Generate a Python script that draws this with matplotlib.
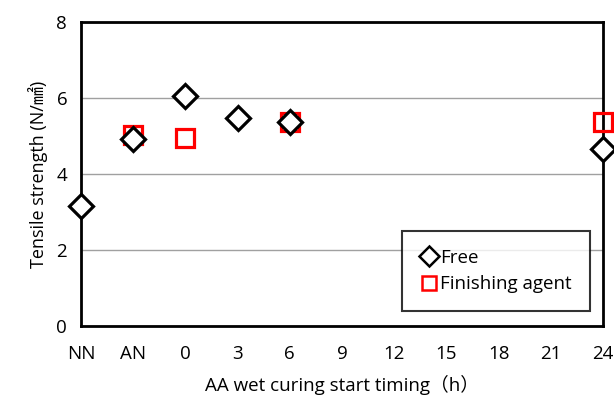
import matplotlib
matplotlib.use("Agg")
import matplotlib.pyplot as plt

plt.rcParams['font.family'] = ['Open Sans', 'Noto Sans CJK JP', 'DejaVu Sans']

categories = ["NN", "AN", "0", "3", "6", "9", "12", "15", "18", "21", "24"]
free_cats = ["NN", "AN", "0", "3", "6", "24"]
free_vals = [3.16, 4.92, 6.04, 5.47, 5.38, 4.67]
agent_cats = ["AN", "0", "6", "24"]
agent_vals = [5.03, 4.95, 5.38, 5.37]
yticks = [0, 2, 4, 6, 8]

fig = plt.figure(figsize=(6.14, 3.99), dpi=100)
ax = fig.add_axes([0.132, 0.183, 0.850, 0.762])

pos = {c: i for i, c in enumerate(categories)}
ax.plot([pos[c] for c in free_cats], free_vals, linestyle='none', marker='D',
        markersize=12, markerfacecolor='white', markeredgecolor='black',
        markeredgewidth=2.3, label='Free', zorder=4, clip_on=False)
ax.plot([pos[c] for c in agent_cats], agent_vals, linestyle='none', marker='s',
        markersize=13.5, markerfacecolor='none', markeredgecolor='#ff0000',
        markeredgewidth=2.3, label='Finishing agent', zorder=3, clip_on=False)

ax.set_xlim(0, 10)
ax.set_ylim(0, 8)
ax.set_xticks(range(len(categories)))
ax.set_xticklabels(categories)
ax.set_yticks(yticks)
ax.tick_params(axis='both', length=0, labelsize=13.5)
ax.tick_params(axis='x', pad=14)
ax.tick_params(axis='y', pad=10)
ax.yaxis.grid(True, color='#a0a0a0', linewidth=1)
ax.set_axisbelow(True)
for s in ax.spines.values():
    s.set_linewidth(2)
    s.set_color('black')

ax.set_xlabel('AA wet curing start timing（h）', fontsize=13.5, labelpad=8)
ax.set_ylabel('Tensile strength (N/㎟)', fontsize=13, labelpad=6)

leg = ax.legend(loc='lower right', bbox_to_anchor=(0.975, 0.049), fontsize=13.5,
                frameon=True, fancybox=False, handletextpad=0.1,
                handlelength=1.0, borderpad=0.95, labelspacing=0.45,
                borderaxespad=0)
leg.get_frame().set_edgecolor('black')
leg.get_frame().set_linewidth(1.5)
for h in leg.legend_handles:
    h.set_markersize(10)
    h.set_markeredgewidth(1.8)

fig.savefig('out.png', dpi=100)
